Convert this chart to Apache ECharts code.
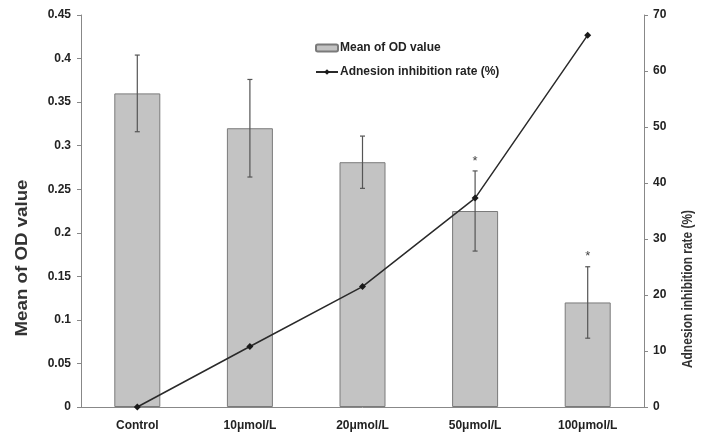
<!DOCTYPE html>
<html><head><meta charset="utf-8">
<script src="https://cdn.jsdelivr.net/npm/echarts@6/dist/echarts.min.js"></script>
<style>html,body{margin:0;padding:0;background:#fff}#c{width:708px;height:434px}</style>
</head><body><div id="c"></div>
<script>
const categories = ['Control', '10μmol/L', '20μmol/L', '50μmol/L', '100μmol/L'];
const odMean = [0.36, 0.32, 0.281, 0.225, 0.12];
const odErr = [0.044, 0.056, 0.030, 0.046, 0.041];
const significant = [false, false, false, true, true];
const inhibitionRate = [0, 10.8, 21.5, 37.3, 66.4];
const leftTicks = { min: 0, max: 0.45, interval: 0.05 };
const rightTicks = { min: 0, max: 70, interval: 10 };

const errData = odMean.map((m, i) => [i, m + odErr[i], m - odErr[i], significant[i] ? 1 : 0]);
const font = 'Liberation Sans, Arial, sans-serif';
const chart = echarts.init(document.getElementById('c'));
chart.setOption({
  animation: false,
  backgroundColor: '#fff',
  textStyle: { fontFamily: font },
  grid: { left: 81, right: 64, top: 15, bottom: 27 },
  legend: {
    orient: 'vertical', left: 310, top: 37, itemGap: 12,
    itemWidth: 22, itemHeight: 7,
    data: ['Mean of OD value', 'Adnesion inhibition rate (%)'],
    textStyle: { fontFamily: font, fontWeight: 'bold', fontSize: 12, color: '#222', padding: [0, 0, 0, -3] }
  },
  xAxis: {
    type: 'category', data: categories, boundaryGap: true,
    axisLine: { lineStyle: { color: '#888', width: 1 } },
    axisTick: { inside: true, length: 4, lineStyle: { color: '#888' } },
    axisLabel: { fontFamily: font, fontWeight: 'bold', fontSize: 12, color: '#222', margin: 13 }
  },
  yAxis: [{
    type: 'value', min: leftTicks.min, max: leftTicks.max, interval: leftTicks.interval,
    axisLine: { show: true, lineStyle: { color: '#888' } },
    axisTick: { show: true, length: 4, lineStyle: { color: '#888' } },
    splitLine: { show: false },
    axisLabel: { fontFamily: font, fontWeight: 'bold', fontSize: 12, color: '#222', margin: 10 }
  }, {
    type: 'value', position: 'right', min: rightTicks.min, max: rightTicks.max, interval: rightTicks.interval,
    axisLine: { show: true, lineStyle: { color: '#888' } },
    axisTick: { show: true, length: 4, lineStyle: { color: '#888' } },
    splitLine: { show: false },
    axisLabel: { fontFamily: font, fontWeight: 'bold', fontSize: 12, color: '#222', margin: 9 }
  }],
  graphic: [
    { type: 'text', x: 22, y: 258, rotation: Math.PI / 2, scaleX: 1.1,
      style: { text: 'Mean of OD value', font: 'bold 17px ' + font, fill: '#333', align: 'center', verticalAlign: 'middle' } },
    { type: 'text', x: 688, y: 289, rotation: Math.PI / 2, scaleX: 0.85,
      style: { text: 'Adnesion inhibition rate (%)', font: 'bold 14px ' + font, fill: '#333', align: 'center', verticalAlign: 'middle' } }
  ],
  series: [{
    name: 'Mean of OD value', type: 'bar', data: odMean, yAxisIndex: 0, barWidth: 46,
    itemStyle: { color: '#c3c3c3', borderColor: '#7a7a7a', borderWidth: 1 }
  }, {
    name: 'errors', type: 'custom', yAxisIndex: 0, data: errData, z: 5,
    renderItem: function (params, api) {
      const x = api.value(0);
      const hi = api.coord([x, api.value(1)]);
      const lo = api.coord([x, api.value(2)]);
      const st = { stroke: '#555', lineWidth: 1.2 };
      const children = [
        { type: 'line', shape: { x1: hi[0], y1: hi[1], x2: lo[0], y2: lo[1] }, style: st },
        { type: 'line', shape: { x1: hi[0] - 2.5, y1: hi[1], x2: hi[0] + 2.5, y2: hi[1] }, style: st },
        { type: 'line', shape: { x1: lo[0] - 2.5, y1: lo[1], x2: lo[0] + 2.5, y2: lo[1] }, style: st }
      ];
      if (api.value(3)) {
        children.push({ type: 'text', x: hi[0], y: hi[1] - 10,
          style: { text: '*', font: '13px ' + font, fill: '#444', align: 'center', verticalAlign: 'middle' } });
      }
      return { type: 'group', children: children };
    }
  }, {
    name: 'Adnesion inhibition rate (%)', type: 'line', data: inhibitionRate, yAxisIndex: 1, z: 6,
    symbol: 'diamond', symbolSize: 7,
    lineStyle: { color: '#2a2a2a', width: 1.5 },
    itemStyle: { color: '#1a1a1a' }
  }]
});
</script></body></html>
